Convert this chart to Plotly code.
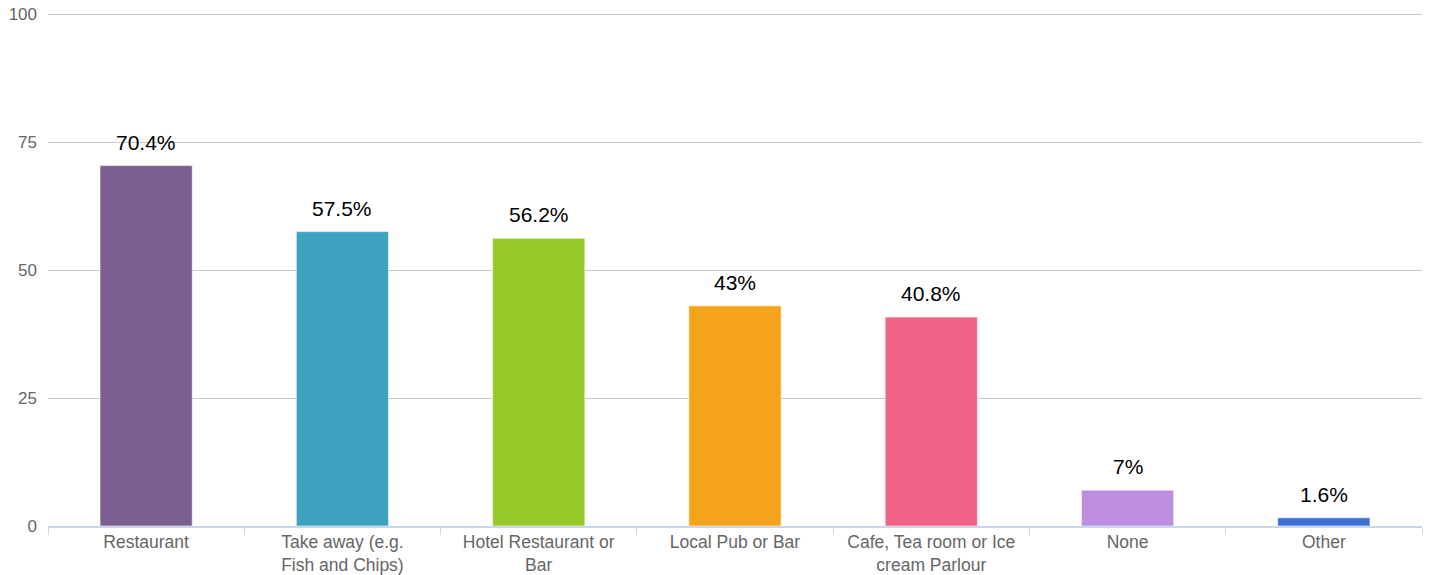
import plotly.graph_objects as go

# Categories and values
categories = ["Restaurant", "Take away (e.g.<br>Fish and Chips)", "Hotel Restaurant or<br>Bar",
              "Local Pub or Bar", "Cafe, Tea room or Ice<br>cream Parlour", "None", "Other"]
values = [70.4, 57.5, 56.2, 43, 40.8, 7, 1.6]
labels = ["70.4%", "57.5%", "56.2%", "43%", "40.8%", "7%", "1.6%"]
colors = ["#7b5f91", "#3fa2c1", "#97c928", "#f4a31a", "#f06386", "#bd8ee0", "#3b6fd4"]
y_ticks = [0, 25, 50, 75, 100]

fig = go.Figure(go.Bar(
    x=categories, y=values,
    marker=dict(color=colors, line=dict(color="rgba(255,255,255,0.6)", width=1)),
    width=0.47,
    hoverinfo="x+y",
))

# value labels above bars
for c, v, t in zip(categories, values, labels):
    fig.add_annotation(x=c, y=v, text=t, showarrow=False, yanchor="bottom", yshift=10,
                       font=dict(size=21, color="#000000"))

fig.update_layout(
    width=1434, height=575,
    margin=dict(l=48, r=12, t=13, b=49),
    plot_bgcolor="white", paper_bgcolor="white",
    font=dict(family="Liberation Sans, Arial, sans-serif"),
    showlegend=False,
)
fig.update_xaxes(
    showline=True, linecolor="#ccd6eb", linewidth=2,
    ticks="outside", tickson="boundaries", ticklen=7, tickcolor="#ccd6eb",
    tickfont=dict(size=17.5, color="#666666"), ticklabelstandoff=-1,
    showgrid=False, automargin=False,
)
fig.update_yaxes(
    range=[0, 100.2], tickvals=y_ticks, showgrid=True, gridcolor="#c8c8c8", gridwidth=1,
    zeroline=False, tickfont=dict(size=17, color="#666666"), ticklabelstandoff=10,
    automargin=False,
)

fig.write_html("out.html", config={"displayModeBar": False},
               post_script="document.body.style.margin='0';")
